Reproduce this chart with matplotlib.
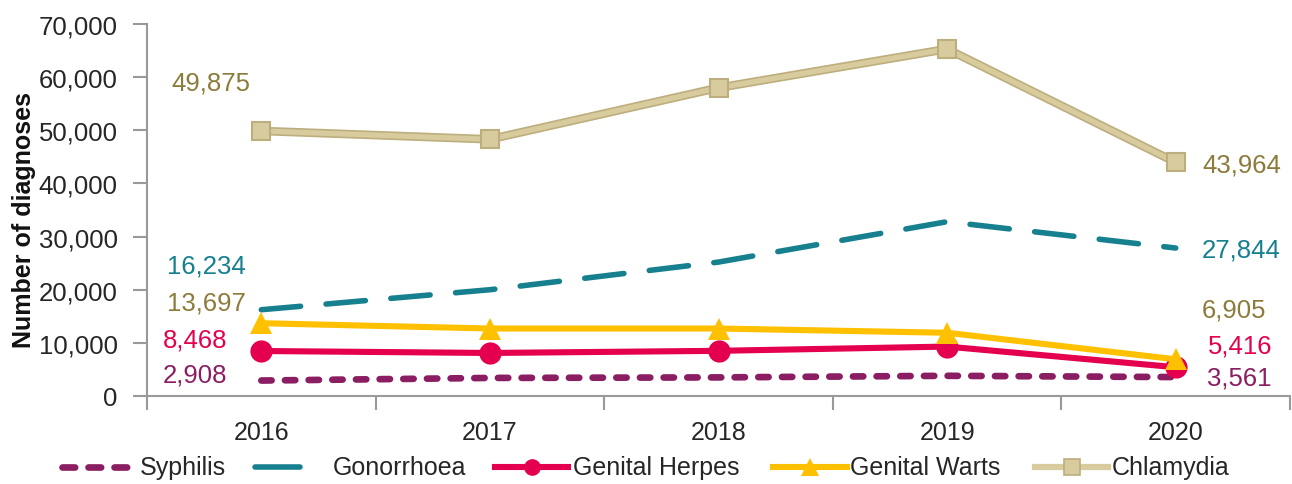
import matplotlib
matplotlib.use("Agg")
import matplotlib.pyplot as plt
from matplotlib.lines import Line2D
from matplotlib.ticker import FuncFormatter, FixedLocator

plt.rcParams['font.family'] = ['Liberation Sans', 'DejaVu Sans']

years = ["2016", "2017", "2018", "2019", "2020"]
syphilis = [2908, 3400, 3500, 3800, 3561]
gonorrhoea = [16234, 20000, 25200, 32800, 27844]
herpes = [8468, 8100, 8500, 9300, 5416]
warts = [13697, 12700, 12700, 11900, 6905]
chlamydia = [49875, 48300, 58000, 65300, 43964]
series_names = ["Syphilis", "Gonorrhoea", "Genital Herpes", "Genital Warts", "Chlamydia"]

c_syph = "#8B1D62"
c_gono = "#16808F"
c_herp = "#E4004E"
c_wart = "#FFC000"
c_chla = "#D8CB9E"
c_chla_edge = "#BDAE7E"
c_olive = "#8C7B3A"
c_text = "#262626"

W, H = 1292, 485
fig = plt.figure(figsize=(W / 100, H / 100), dpi=100)
ax = fig.add_axes([147 / W, 1 - 397 / H, 1143 / W, 372 / H])
x = list(range(len(years)))

ax.plot(x, syphilis, color=c_syph, lw=4.8, dashes=(1.55, 2.0), dash_capstyle='round', zorder=3)
ax.plot(x, gonorrhoea, color=c_gono, lw=4.0, dashes=(7.1, 4.6), dash_capstyle='round', zorder=3)
ax.plot(x, herpes, color=c_herp, lw=4.4, marker='o', ms=16, markeredgewidth=0, zorder=4)
ax.plot(x, warts, color=c_wart, lw=4.4, marker='^', ms=16, markeredgewidth=0, zorder=5)
ax.plot(x, chlamydia, color=c_chla_edge, lw=6.2, zorder=2)
ax.plot(x, chlamydia, color=c_chla, lw=3.8, marker='s', ms=13, markeredgecolor=c_chla_edge,
        markeredgewidth=1.5, zorder=3)

ax.set_xlim(-0.5, 4.5)
ax.set_ylim(0, 70000)
ax.set_xticks(x)
ax.set_xticklabels(years)
ax.xaxis.set_minor_locator(FixedLocator([i + 0.5 for i in range(-1, 5)]))
ax.tick_params(axis='x', which='major', length=0, labelsize=18, pad=17, labelcolor=c_text)
ax.tick_params(axis='x', which='minor', length=10, width=1.5, color="#999999")
ax.set_yticks(range(0, 70001, 10000))
ax.yaxis.set_major_formatter(FuncFormatter(lambda v, p: f"{int(v):,}"))
ax.tick_params(axis='y', length=10, width=1.5, color="#999999", labelsize=18.5, labelcolor=c_text, pad=11)
for s in ['top', 'right']:
    ax.spines[s].set_visible(False)
for s in ['left', 'bottom']:
    ax.spines[s].set_color("#999999")
    ax.spines[s].set_linewidth(1.5)
ax.set_ylabel("Number of diagnoses", fontsize=18, fontweight='bold', color="#111111")
ax.yaxis.set_label_coords(-0.097, 0.476)

fs = 18.5
lx = -0.4125
ax.text(lx + 0.017, 59000, f"{chlamydia[0]:,}", color=c_olive, fontsize=fs, ha='left', va='center')
ax.text(lx, 24570, f"{gonorrhoea[0]:,}", color=c_gono, fontsize=fs, ha='left', va='center')
ax.text(lx, 17610, f"{warts[0]:,}", color=c_olive, fontsize=fs, ha='left', va='center')
ax.text(lx - 0.017, 10650, f"{herpes[0]:,}", color=c_herp, fontsize=fs, ha='left', va='center')
ax.text(lx - 0.017, 4060, f"{syphilis[0]:,}", color=c_syph, fontsize=fs, ha='left', va='center')

rx = 4.115
ax.text(rx, 43580, f"{chlamydia[4]:,}", color=c_olive, fontsize=fs, ha='left', va='center')
ax.text(rx, 27590, f"{gonorrhoea[4]:,}", color=c_gono, fontsize=fs, ha='left', va='center')
ax.text(rx, 16290, f"{warts[4]:,}", color=c_olive, fontsize=fs, ha='left', va='center')
ax.text(rx + 0.027, 9520, f"{herpes[4]:,}", color=c_herp, fontsize=fs, ha='left', va='center')
ax.text(rx + 0.022, 3500, f"{syphilis[4]:,}", color=c_syph, fontsize=fs, ha='left', va='center')

# manual legend (positions in pixels)
ly = 1 - 468 / H
entries = [
    (62, 128, 140, dict(color=c_syph, lw=4.8, dashes=(1.9, 2.0), dash_capstyle='round')),
    (255, 300, 333, dict(color=c_gono, lw=4.0, solid_capstyle='round')),
    (495, 568, 573, dict(color=c_herp, lw=4.4)),
    (773, 847, 850, dict(color=c_wart, lw=4.4)),
    (1035, 1108, 1112, dict(color=c_chla, lw=4.5)),
]
markers = [None, None, dict(marker='o', ms=12, color=c_herp, mew=0),
           dict(marker='^', ms=13, color=c_wart, mew=0),
           dict(marker='s', ms=12, color=c_chla, mec=c_chla_edge, mew=1.2)]
for (x0, x1, tx, style), mk, name in zip(entries, markers, series_names):
    fig.add_artist(Line2D([x0 / W, x1 / W], [ly, ly], transform=fig.transFigure, **style))
    if mk is not None:
        m = dict(mk)
        col = m.pop('color')
        fig.add_artist(Line2D([(x0 + x1) / 2 / W], [ly], transform=fig.transFigure, linestyle='none',
                              markerfacecolor=col, markeredgecolor=m.pop('mec', col), **m))
    fig.text(tx / W, ly, name, fontsize=18, color=c_text, ha='left', va='center')

fig.savefig("out.png", dpi=100)
